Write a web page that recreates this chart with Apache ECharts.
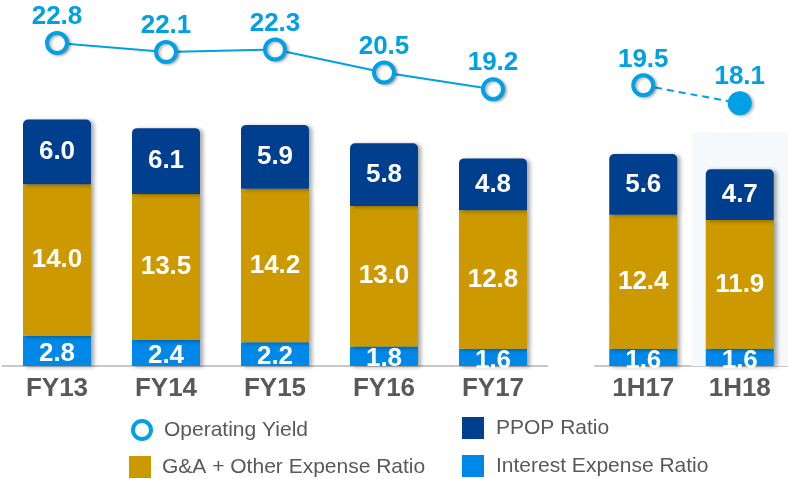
<!DOCTYPE html>
<html>
<head>
<meta charset="utf-8">
<script src="https://cdn.jsdelivr.net/npm/echarts@6/dist/echarts.min.js"></script>
<style>
    html, body { margin: 0; padding: 0; background: #fff; }
    #chart { width: 788px; height: 479px; }
</style>
</head>
<body>
<div id="chart"></div>
<script>
var yearCats = ['FY13', 'FY14', 'FY15', 'FY16', 'FY17'];
var halfCats = ['1H17', '1H18'];

var yearInterest = [2.8, 2.4, 2.2, 1.8, 1.6];
var yearGA = [14.0, 13.5, 14.2, 13.0, 12.8];
var yearPPOP = [6.0, 6.1, 5.9, 5.8, 4.8];
var yearYield = [22.8, 22.1, 22.3, 20.5, 19.2];

var halfInterest = [1.6, 1.6];
var halfGA = [12.4, 11.9];
var halfPPOP = [5.6, 4.7];
var halfYield = [19.5, 18.1];

var navy = '#003e8e';
var gold = '#cc9900';
var blue = '#0088e8';
var lineBlue = '#00a0e4';
var grey = '#595959';
var font = 'Liberation Sans, Arial';

var barShadow = {
    shadowColor: 'rgba(0,0,0,0.35)',
    shadowBlur: 4,
    shadowOffsetX: 3,
    shadowOffsetY: 1
};

function barSeries(name, data, color, idx, stack, radius, labelOffset) {
    return {
        name: name,
        type: 'bar',
        stack: stack,
        xAxisIndex: idx,
        yAxisIndex: idx * 2,
        barWidth: 68,
        data: data,
        z: 2,
        itemStyle: Object.assign({ color: color, borderRadius: radius }, barShadow),
        label: {
            show: true,
            position: 'inside',
            offset: [0, labelOffset || 0],
            color: '#fff',
            fontFamily: font,
            fontWeight: 'bold',
            fontSize: 26,
            formatter: function (p) { return p.value.toFixed(1); }
        }
    };
}

function lineSeries(data, idx, dashed) {
    var pts = data.map(function (v, i) {
        if (dashed && i === data.length - 1) {
            return { value: v, symbolSize: 24, itemStyle: { color: lineBlue, borderWidth: 0 } };
        }
        return v;
    });
    return {
        name: 'Operating Yield',
        type: 'line',
        xAxisIndex: idx,
        yAxisIndex: idx * 2 + 1,
        data: pts,
        symbol: 'circle',
        symbolSize: 20,
        z: 5,
        lineStyle: { color: lineBlue, width: 2, type: dashed ? [7, 5] : 'solid' },
        itemStyle: {
            color: '#fff',
            borderColor: lineBlue,
            borderWidth: 4,
            shadowColor: 'rgba(0,0,0,0.3)',
            shadowBlur: 3,
            shadowOffsetX: 2,
            shadowOffsetY: 1
        },
        label: {
            show: true,
            position: 'top',
            distance: 1,
            color: lineBlue,
            fontFamily: font,
            fontWeight: 'bold',
            fontSize: 26,
            formatter: function (p) { return p.value.toFixed(1); }
        }
    };
}

function catAxis(idx, cats) {
    return {
        type: 'category',
        gridIndex: idx,
        data: cats,
        axisTick: { show: false },
        axisLine: { lineStyle: { color: '#c8c8c8', width: 2 } },
        axisLabel: {
            color: grey,
            fontFamily: font,
            fontWeight: 'bold',
            fontSize: 26,
            margin: 10
        }
    };
}

function valAxes(idx) {
    return [
        { type: 'value', gridIndex: idx, min: 0, max: 32, show: false, splitLine: { show: false } },
        { type: 'value', gridIndex: idx, min: -2.4, max: 24.6, show: false, splitLine: { show: false } }
    ];
}

// one legend per entry so the two columns line up like the slide
function legendItem(left, top, item, size, gap) {
    return {
        left: left,
        top: top,
        padding: 0,
        itemWidth: size,
        itemHeight: size,
        itemGap: 0,
        data: [item],
        textStyle: { color: grey, fontSize: 21, fontFamily: font, padding: [0, 0, 0, gap] }
    };
}

var chart = echarts.init(document.getElementById('chart'));

var halfBottom = barSeries('Interest Expense Ratio', halfInterest, blue, 1, 'h', 0, 3);
halfBottom.markArea = {
    silent: true,
    itemStyle: { color: '#f5f9fb' },
    label: { show: false },
    data: [[{ xAxis: '1H18', yAxis: 0 }, { xAxis: '1H18', yAxis: 21.6 }]]
};

chart.setOption({
    animation: false,
    grid: [
        { left: 2.5, width: 545, top: 20, bottom: 113 },
        { left: 595, width: 207, top: 20, bottom: 113 }
    ],
    xAxis: [catAxis(0, yearCats), catAxis(1, halfCats)],
    yAxis: valAxes(0).concat(valAxes(1)),
    legend: [
        legendItem(131, 419, { name: 'Operating Yield', icon: 'circle', itemStyle: { color: '#fff', borderColor: lineBlue, borderWidth: 4 } }, 18, 8),
        legendItem(129, 456, { name: 'G&A + Other Expense Ratio', icon: 'rect' }, 22, 6),
        legendItem(462, 417, { name: 'PPOP Ratio', icon: 'rect' }, 22, 7),
        legendItem(462, 455, { name: 'Interest Expense Ratio', icon: 'rect' }, 22, 7)
    ],
    series: [
        barSeries('Interest Expense Ratio', yearInterest, blue, 0, 'y', 0, 3),
        barSeries('G&A + Other Expense Ratio', yearGA, gold, 0, 'y', 0),
        barSeries('PPOP Ratio', yearPPOP, navy, 0, 'y', [5, 5, 0, 0]),
        lineSeries(yearYield, 0, false),
        halfBottom,
        barSeries('G&A + Other Expense Ratio', halfGA, gold, 1, 'h', 0),
        barSeries('PPOP Ratio', halfPPOP, navy, 1, 'h', [5, 5, 0, 0]),
        lineSeries(halfYield, 1, true)
    ]
});
</script>
</body>
</html>
